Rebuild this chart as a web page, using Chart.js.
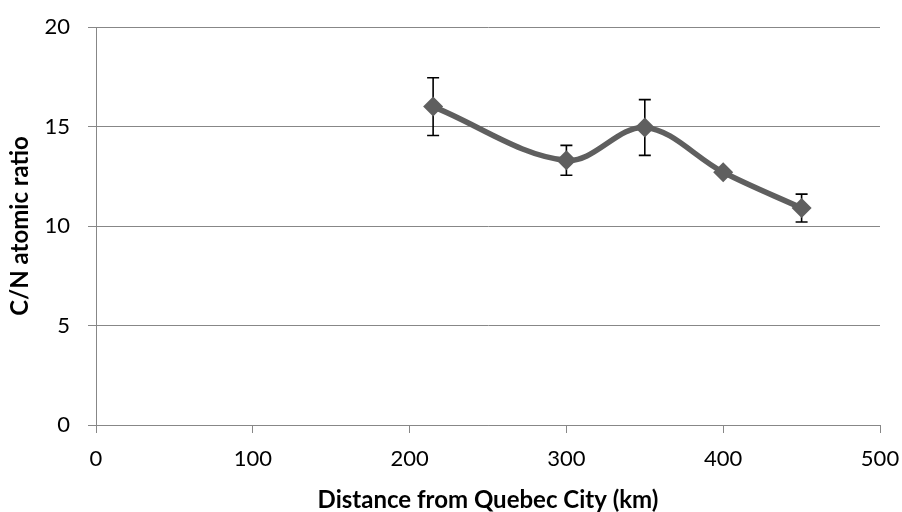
<!DOCTYPE html>
<html>
<head>
<meta charset="utf-8">
<script src="https://cdn.jsdelivr.net/npm/chart.js@4.4.1/dist/chart.umd.min.js"></script>
<style>
  html, body { margin: 0; padding: 0; background: #fff; }
  #wrap { width: 902px; height: 512px; }
</style>
</head>
<body>
<div id="wrap"><canvas id="chartCanvas" width="902" height="512"></canvas></div>
<script>
// Sampling sites along the river
const distances = [215, 300, 350, 400, 450];
const cnRatio = [16.0, 13.3, 14.95, 12.7, 10.9];
const cnError = [1.45, 0.75, 1.4, 0.1, 0.7];

const xTicks = [0, 100, 200, 300, 400, 500];
const yTicks = [0, 5, 10, 15, 20];

const gridGray = '#878787';
const seriesGray = '#5f5f5f';

// Vertical error bars with caps, drawn under the markers
const errorBars = {
  id: 'errorBars',
  beforeDatasetsDraw(chart) {
    const { ctx, scales: { x, y } } = chart;
    ctx.save();
    ctx.strokeStyle = '#000';
    ctx.lineWidth = 1.6;
    distances.forEach((d, i) => {
      const px = x.getPixelForValue(d);
      const top = y.getPixelForValue(cnRatio[i] + cnError[i]);
      const bot = y.getPixelForValue(cnRatio[i] - cnError[i]);
      ctx.beginPath();
      ctx.moveTo(px, top);
      ctx.lineTo(px, bot);
      ctx.moveTo(px - 6, top);
      ctx.lineTo(px + 6, top);
      ctx.moveTo(px - 6, bot);
      ctx.lineTo(px + 6, bot);
      ctx.stroke();
    });
    ctx.restore();
  }
};

// fixed axis boxes, no extra room for overhanging labels
function fixX(scale) {
  scale.height = 87;
  scale.paddingLeft = 0;
  scale.paddingRight = 0;
}
function fixY(scale) {
  scale.width = 96;
  scale.paddingTop = 0;
  scale.paddingBottom = 0;
}

const ctx = document.getElementById('chartCanvas').getContext('2d');
new Chart(ctx, {
  type: 'line',
  data: {
    datasets: [{
      data: distances.map((d, i) => ({ x: d, y: cnRatio[i] })),
      borderColor: seriesGray,
      borderWidth: 5.5,
      tension: 0.35,
      pointStyle: 'rectRot',
      pointRadius: 10,
      pointBackgroundColor: seriesGray,
      pointBorderColor: seriesGray,
      pointBorderWidth: 0,
      fill: false
    }]
  },
  options: {
    responsive: false,
    animation: false,
    events: [],
    layout: { padding: { top: 27, right: 22, left: 0, bottom: 0 } },
    plugins: { legend: { display: false }, tooltip: { enabled: false } },
    scales: {
      x: {
        type: 'linear',
        min: 0,
        max: 500,
        afterBuildTicks: (scale) => { scale.ticks = xTicks.map(v => ({ value: v })); },
        afterFit: fixX,
        grid: { drawOnChartArea: false, drawTicks: true, tickLength: 8, color: gridGray, lineWidth: 1 },
        border: { color: gridGray, width: 1 },
        ticks: { color: '#000', padding: 13, maxRotation: 0, font: { family: 'Lato', size: 22 } },
        title: {
          display: true,
          text: 'Distance from Quebec City (km)',
          color: '#000',
          padding: { top: 0, bottom: 0 },
          font: { family: 'Lato', size: 24, weight: 'bold', lineHeight: 1 }
        }
      },
      y: {
        type: 'linear',
        min: 0,
        max: 20,
        afterBuildTicks: (scale) => { scale.ticks = yTicks.map(v => ({ value: v })); },
        afterFit: fixY,
        grid: { drawTicks: true, tickLength: 8, color: gridGray, lineWidth: 1 },
        border: { color: gridGray, width: 1 },
        ticks: { color: '#000', padding: 18, font: { family: 'Lato', size: 22 } },
        title: {
          display: true,
          text: 'C/N atomic ratio',
          color: '#000',
          padding: { top: 6, bottom: 0 },
          font: { family: 'Lato', size: 24, weight: 'bold', lineHeight: 1.2 }
        }
      }
    }
  },
  plugins: [errorBars]
});
</script>
</body>
</html>
